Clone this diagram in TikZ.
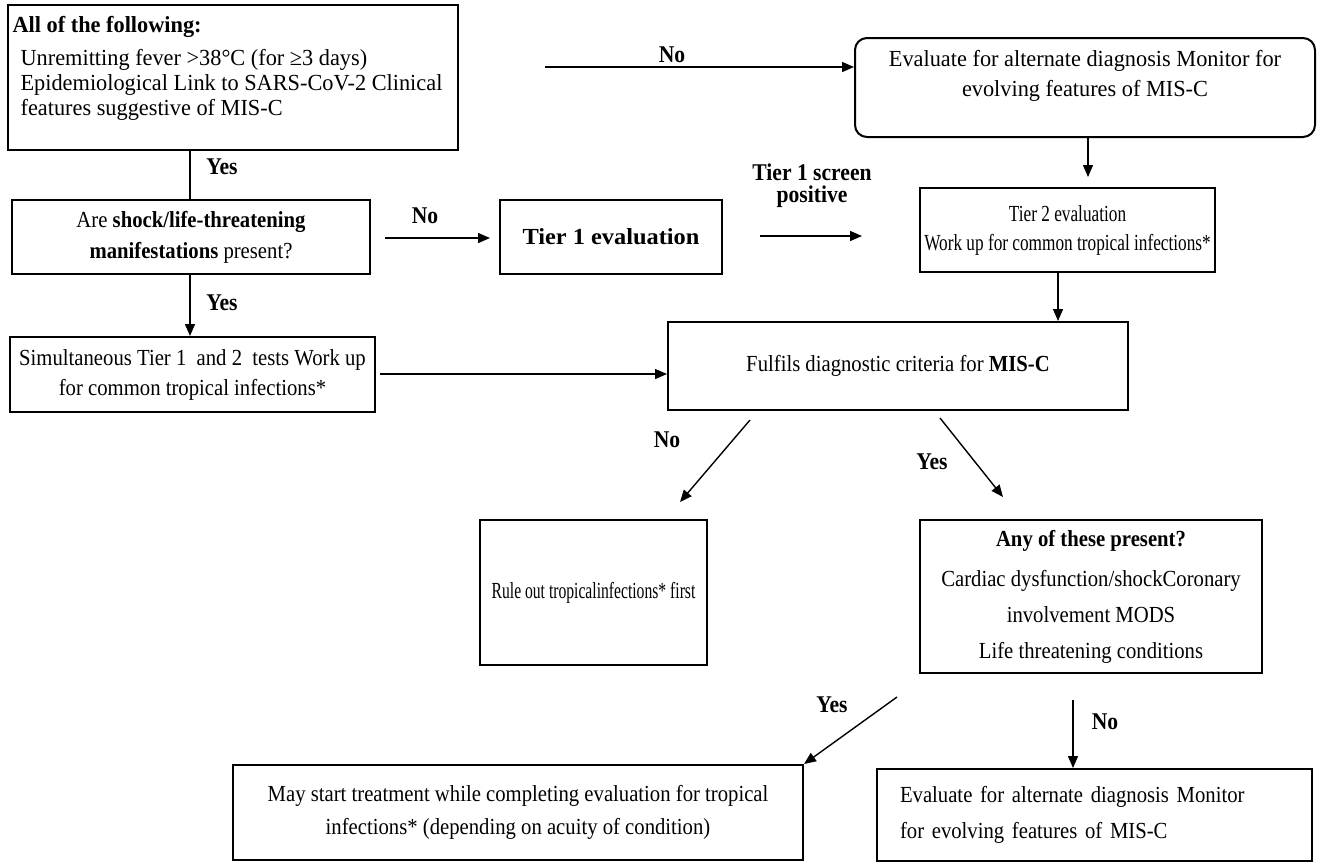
\documentclass[tikz,border=0pt]{standalone}
\usepackage{fontspec}
\setmainfont{Liberation Serif}[FakeStretch=0.9]
\newfontfamily\widefont{Liberation Serif}[FakeStretch=0.97]
\newfontfamily\extfont{Liberation Serif}[FakeStretch=1.06]
\newfontfamily\narrowfont{Liberation Serif}[FakeStretch=0.75]
\newfontfamily\condfont{Liberation Serif}[FakeStretch=0.68]
\usetikzlibrary{arrows.meta}

\begin{document}
\begin{tikzpicture}[x=0.5pt,y=-0.5pt,semithick,
  font=\fontsize{11.5}{15}\selectfont,
  box/.style={draw,line width=1pt,inner sep=0pt,align=center},
  arr/.style={-{Triangle[length=6pt,width=5pt]},line width=0.7pt},
  lab/.style={font=\fontsize{12}{11}\selectfont\bfseries,inner sep=0pt,align=center}]
  \useasboundingbox (0,0) rectangle (1321,864);

  % boxes
  \node[box,minimum width=225pt,minimum height=72.5pt] (A) at (233,77.5) {};
  \node[anchor=north west,align=left,inner sep=0pt,
    font=\widefont\fontsize{11.5}{12.5}\selectfont] (Atxt) at (12,16)
    {\textbf{All of the following:}\\[4pt]
     \hspace*{4pt}Unremitting fever >38°C (for ≥3 days)\\
     \hspace*{4pt}Epidemiological Link to SARS-CoV-2 Clinical\\
     \hspace*{4pt}features suggestive of MIS-C};
  \node[box,rounded corners=6pt,minimum width=230pt,minimum height=49.5pt] (B) at (1085,87.5) {};
  \node[anchor=north,align=center,inner sep=0pt,
    font=\widefont\fontsize{11.5}{15}\selectfont] (Btxt) at (1085,50)
    {Evaluate for alternate diagnosis Monitor for\\ evolving features of MIS-C};
  \node[box,minimum width=179pt,minimum height=37pt,font=\fontsize{11.5}{15.5}\selectfont] (C)
    at (191,237) {Are \textbf{shock/life-threatening}\\ \textbf{manifestations} present?};
  \node[box,minimum width=111pt,minimum height=37pt,font=\extfont\fontsize{11.5}{15}\selectfont\bfseries] (D)
    at (611,237) {Tier 1 evaluation};
  \node[box,minimum width=147.5pt,minimum height=42pt,font=\narrowfont\fontsize{11.5}{14.5}\selectfont] (E)
    at (1067.5,230) {Tier 2 evaluation\\ Work up for common tropical infections*};
  \node[box,minimum width=182.5pt,minimum height=37.5pt] (F)
    at (192.5,374.5) {Simultaneous Tier 1\ \ and 2\ \ tests Work up\\ for common tropical infections*};
  \node[box,minimum width=230pt,minimum height=44pt] (G)
    at (898,366) {Fulfils diagnostic criteria for \textbf{MIS-C}};
  \node[box,minimum width=113.5pt,minimum height=72.5pt,font=\condfont\fontsize{11.5}{15}\selectfont] (H)
    at (593.5,592.5) {Rule out tropicalinfections* first};
  \node[box,minimum width=171pt,minimum height=76.5pt,font=\fontsize{11.5}{18}\selectfont] (I)
    at (1091,596.5) {\textbf{Any of these present?}\\[2pt] Cardiac dysfunction/shockCoronary\\
     involvement MODS\\ Life threatening conditions};
  \node[box,minimum width=285pt,minimum height=47.5pt,font=\fontsize{11.5}{16.5}\selectfont] (J)
    at (518,812.5) {May start treatment while completing evaluation for tropical\\
     infections* (depending on acuity of condition)};
  \node[box,minimum width=217.5pt,minimum height=46pt,text width=194.5pt,align=left,
    font=\fontsize{11.5}{18}\selectfont] (K)
    at (1094.5,815) {Evaluate for alternate diagnosis Monitor\\ for evolving features of MIS-C};

  % free ends of the connectors
  \coordinate (sAB) at (545,67);
  \coordinate (xAC) at (190,0);
  \coordinate (sCD) at (385,238);
  \coordinate (eCD) at (490,238);
  \coordinate (sDE) at (760,236);
  \coordinate (eDE) at (862,236);
  \coordinate (xBE) at (1088,0);
  \coordinate (eBE) at (1088,177);
  \coordinate (sFG) at (380,374);
  \coordinate (xEG) at (1058,0);
  \coordinate (sGH) at (750,420);
  \coordinate (eGH) at (680,502);
  \coordinate (sGI) at (940,418);
  \coordinate (eGI) at (1003,497);
  \coordinate (sIJ) at (897,697);
  \coordinate (sIK) at (1073,700);

  % connectors
  \draw[arr] (sAB) -- (sAB -| B.west);
  \draw[line width=0.7pt] (xAC |- A.south) -- (xAC |- C.north);
  \draw[arr] (sCD) -- (eCD);
  \draw[arr] (sDE) -- (eDE);
  \draw[arr] (xBE |- B.south) -- (eBE);
  \draw[arr] (xAC |- C.south) -- (xAC |- F.north);
  \draw[arr] (sFG) -- (sFG -| G.west);
  \draw[arr] (xEG |- E.south) -- (xEG |- G.north);
  \draw[arr] (sGH) -- (eGH);
  \draw[arr] (sGI) -- (eGI);
  \draw[arr] (sIJ) -- (J.north east);
  \draw[arr] (sIK) -- (sIK |- K.north);

  % labels
  \node[lab] (lAB) at (672,55) {No};
  \node[lab] (lAC) at (222,167) {Yes};
  \node[lab] (lCD) at (425,216) {No};
  \node[lab] (lDE) at (812,186) {Tier 1 screen\\ positive};
  \node[lab] (lCF) at (222,303) {Yes};
  \node[lab] (lGH) at (667,440) {No};
  \node[lab] (lGI) at (932,462) {Yes};
  \node[lab] (lIJ) at (832,705) {Yes};
  \node[lab] (lIK) at (1105,722) {No};
\end{tikzpicture}
\end{document}
